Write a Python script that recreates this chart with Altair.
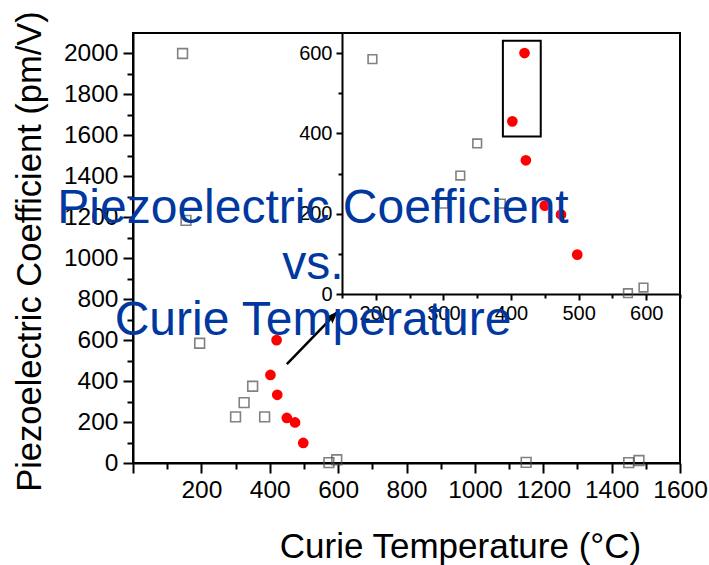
import altair as alt
import pandas as pd

FONT = "Liberation Sans"

# Open squares: Curie temperature (°C) and d33 (pm/V)
sq_tc = [145, 155, 195, 300, 325, 350, 385, 573, 596, 1150, 1450, 1480]
sq_d33 = [2000, 1185, 585, 225, 295, 375, 225, 2, 16, 3, 2, 12]

# Red dots: highlighted compositions
dot_tc = [420, 402, 422, 450, 474, 498]
dot_d33 = [600, 430, 333, 220, 198, 98]

# Box drawn around the two top red points in the inset
box_tc = [388, 444]
box_d33 = [392, 631]

# Arrow pointing from the cluster up to the inset
arrow_tc = [450, 600]
arrow_d33 = [483, 742]

# Caption lines
caption_lines = ["Piezoelectric Coefficient", "vs.", "Curie Temperature"]

squares = pd.DataFrame({"tc": sq_tc, "d33": sq_d33})
dots = pd.DataFrame({"tc": dot_tc, "d33": dot_d33})
box = pd.DataFrame({"tc": [box_tc[0]], "tc_end": [box_tc[1]],
                    "d33": [box_d33[0]], "d33_end": [box_d33[1]]})
arrow = pd.DataFrame({"tc": [arrow_tc[0]], "tc_end": [arrow_tc[1]],
                      "d33": [arrow_d33[0]], "d33_end": [arrow_d33[1]]})
caption = pd.DataFrame({"caption": ["\n".join(caption_lines)]})

W, H = 547, 430
INSET_LEFT, INSET_BOTTOM = 209, 261

axis_common = dict(grid=False, domainColor="black", domainWidth=2,
                   tickColor="black", tickWidth=2, labelColor="black",
                   labelFont=FONT, titleFont=FONT, titleColor="black",
                   titleFontWeight="normal", labelFlush=False,
                   labelOverlap=False, format="d")


def x_main(field):
    return alt.X(f"{field}:Q",
                 scale=alt.Scale(domain=[0, 1600], nice=False, zero=False),
                 axis=alt.Axis(orient="bottom",
                               values=list(range(0, 1601, 100)),
                               labelExpr="datum.value % 200 == 0 && datum.value > 0 ? datum.label : ''",
                               tickSize={"condition": {"test": "datum.value % 200 == 0", "value": 10}, "value": 6},
                               labelFontSize=24.5, labelPadding=5,
                               title="Curie Temperature (°C)", titleFontSize=35,
                               titleX=327, titleY=94, titleAlign="center",
                               titleBaseline="alphabetic", titleAngle=0,
                               **axis_common))


def y_main(field):
    return alt.Y(f"{field}:Q",
                 scale=alt.Scale(domain=[0, 2100], nice=False, zero=False),
                 axis=alt.Axis(orient="left",
                               values=list(range(0, 2001, 100)),
                               labelExpr="datum.value % 200 == 0 ? datum.label : ''",
                               tickSize={"condition": {"test": "datum.value % 200 == 0", "value": 10}, "value": 6},
                               labelFontSize=24.5, labelPadding=5,
                               title="Piezoelectric Coefficient (pm/V)", titleFontSize=34.5,
                               titleX=-93, titleY=H / 2 + 3, titleAlign="center",
                               titleBaseline="alphabetic", titleAngle=270,
                               **axis_common))


def x_inset(field):
    return alt.X(f"{field}:Q",
                 scale=alt.Scale(domain=[150, 650], range=[INSET_LEFT, W], nice=False, zero=False),
                 axis=alt.Axis(orient="bottom", offset=-(H - INSET_BOTTOM),
                               values=list(range(150, 651, 50)),
                               labelExpr="datum.value % 100 == 0 && datum.value < 650 ? datum.label : ''",
                               tickSize={"condition": {"test": "datum.value % 100 == 0", "value": 6}, "value": 4},
                               labelFontSize=20, labelPadding=3, title=None,
                               **axis_common))


def y_inset(field):
    return alt.Y(f"{field}:Q",
                 scale=alt.Scale(domain=[0, 650], range=[INSET_BOTTOM, 0], nice=False, zero=False),
                 axis=alt.Axis(orient="left", offset=-INSET_LEFT,
                               values=list(range(0, 601, 100)),
                               labelExpr="datum.value % 200 == 0 ? datum.label : ''",
                               tickSize={"condition": {"test": "datum.value % 200 == 0", "value": 6}, "value": 4},
                               labelFontSize=20, labelPadding=4, title=None,
                               **axis_common))


# ---- main panel ----
main_sq = alt.Chart(squares).mark_point(
    shape="square", filled=False, stroke="#4d4d4d", strokeWidth=1.6, size=95
).encode(x=x_main("tc"), y=y_main("d33"))

main_dots = alt.Chart(dots).mark_point(
    shape="circle", filled=True, color="#ff0000", opacity=1, size=115
).encode(x=x_main("tc"), y=y_main("d33"))

arrow_line = alt.Chart(arrow).mark_rule(color="black", strokeWidth=2.5).encode(
    x=x_main("tc"), y=y_main("d33"), x2="tc_end:Q", y2="d33_end:Q")

arrow_head = alt.Chart(arrow).mark_point(
    shape="M0,0L0.35,1L0,0.8L-0.35,1Z", filled=True, color="black",
    opacity=1, size=700, angle=44
).encode(x=x_main("tc_end"), y=y_main("d33_end"))

main = alt.layer(main_sq, main_dots, arrow_line, arrow_head)

# ---- inset panel (zoom on 150-650 °C) ----
inset_sq = alt.Chart(squares).transform_filter(
    "datum.tc >= 150 && datum.tc <= 650 && datum.d33 <= 650"
).mark_point(
    shape="square", filled=False, stroke="#4d4d4d", strokeWidth=1.6, size=75
).encode(x=x_inset("tc"), y=y_inset("d33"))

inset_dots = alt.Chart(dots).mark_point(
    shape="circle", filled=True, color="#ff0000", opacity=1, size=115
).encode(x=x_inset("tc"), y=y_inset("d33"))

inset_box = alt.Chart(box).mark_rect(
    fillOpacity=0, stroke="black", strokeWidth=2
).encode(x=x_inset("tc"), x2="tc_end:Q", y=y_inset("d33"), y2="d33_end:Q")

inset = alt.layer(inset_sq, inset_dots, inset_box)

# ---- caption over the plot ----
caption_text = alt.Chart(caption).mark_text(
    align="center", baseline="alphabetic", font=FONT, fontSize=48,
    color="#0038a0", lineHeight=56, lineBreak="\n"
).encode(x=alt.value(180), y=alt.value(190), text="caption:N")

chart = alt.layer(main, inset, caption_text).resolve_scale(
    x="independent", y="independent"
).properties(
    width=W, height=H,
    padding={"left": 133, "top": 33, "right": 29, "bottom": 102},
    autosize=alt.AutoSizeParams(type="none"),
    background="white",
).configure_view(stroke="black", strokeWidth=2)

chart.save("out.html", embed_options={"renderer": "svg", "actions": False})
